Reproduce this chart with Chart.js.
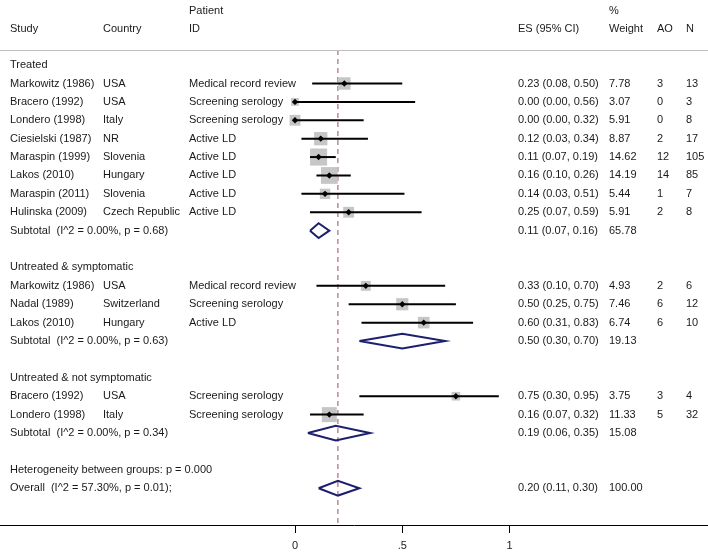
<!DOCTYPE html>
<html>
<head>
<meta charset="utf-8">
<script src="https://cdn.jsdelivr.net/npm/chart.js@4"></script>
<style>
  html, body { margin: 0; padding: 0; background: #fff; }
  #wrap { width: 708px; height: 555px; }
</style>
</head>
<body>
<div id="wrap"><canvas id="forest" width="708" height="555"></canvas></div>
<script>
/* forest plot — studies, subtotals and overall */

const GROUPS      = ['Treated', 'Untreated & symptomatic', 'Untreated & not symptomatic'];
const STUDY       = ['Markowitz (1986)', 'Bracero (1992)', 'Londero (1998)', 'Ciesielski (1987)', 'Maraspin (1999)', 'Lakos (2010)', 'Maraspin (2011)', 'Hulinska (2009)',
                     'Markowitz (1986)', 'Nadal (1989)', 'Lakos (2010)',
                     'Bracero (1992)', 'Londero (1998)'];
const COUNTRY     = ['USA', 'USA', 'Italy', 'NR', 'Slovenia', 'Hungary', 'Slovenia', 'Czech Republic',
                     'USA', 'Switzerland', 'Hungary',
                     'USA', 'Italy'];
const PATIENT_ID  = ['Medical record review', 'Screening serology', 'Screening serology', 'Active LD', 'Active LD', 'Active LD', 'Active LD', 'Active LD',
                     'Medical record review', 'Screening serology', 'Active LD',
                     'Screening serology', 'Screening serology'];
const STUDY_GROUP = [0, 0, 0, 0, 0, 0, 0, 0, 1, 1, 1, 2, 2];
const ES          = [0.23, 0.00, 0.00, 0.12, 0.11, 0.16, 0.14, 0.25, 0.33, 0.50, 0.60, 0.75, 0.16];
const CI_LO       = [0.08, 0.00, 0.00, 0.03, 0.07, 0.10, 0.03, 0.07, 0.10, 0.25, 0.31, 0.30, 0.07];
const CI_HI       = [0.50, 0.56, 0.32, 0.34, 0.19, 0.26, 0.51, 0.59, 0.70, 0.75, 0.83, 0.95, 0.32];
const WEIGHT      = [7.78, 3.07, 5.91, 8.87, 14.62, 14.19, 5.44, 5.91, 4.93, 7.46, 6.74, 3.75, 11.33];
const AO          = [3, 0, 0, 2, 12, 14, 1, 2, 2, 6, 6, 3, 5];
const N           = [13, 3, 8, 17, 105, 85, 7, 8, 6, 12, 10, 4, 32];

const SUB_HET     = ['I^2 = 0.00%, p = 0.68', 'I^2 = 0.00%, p = 0.63', 'I^2 = 0.00%, p = 0.34'];
const SUB_ES      = [0.11, 0.50, 0.19];
const SUB_LO      = [0.07, 0.30, 0.06];
const SUB_HI      = [0.16, 0.70, 0.35];
const SUB_WEIGHT  = [65.78, 19.13, 15.08];

const BETWEEN_P   = '0.000';
const OVERALL_HET = 'I^2 = 57.30%, p = 0.01';
const OVERALL     = [0.20, 0.11, 0.30];   // es, lo, hi
const OVERALL_W   = 100.00;

const TICK_VALUES = [0, 0.5, 1];
const TICK_LABELS = ['0', '.5', '1'];

const FAMILY = '"Liberation Sans", Arial, sans-serif';
const FONT = '11px ' + FAMILY;
const TEXT = '#1a1a1a';
const NAVY = '#1c1f6e';

/* ── row layout: header, studies, subtotal, blank line per group ── */
const rows = [];          // {kind, row, i}
let r = 1;
GROUPS.forEach((g, gi) => {
  rows.push({ kind: 'group', row: r++, i: gi });
  STUDY.forEach((s, i) => { if (STUDY_GROUP[i] === gi) rows.push({ kind: 'study', row: r++, i }); });
  rows.push({ kind: 'sub', row: r++, i: gi });
  r++;
});
rows.push({ kind: 'between', row: r++ });
rows.push({ kind: 'overall', row: r++ });

const studyRow = STUDY.map((s, i) => rows.find(o => o.kind === 'study' && o.i === i).row);
const subRow = GROUPS.map((g, gi) => rows.find(o => o.kind === 'sub' && o.i === gi).row);
const overallRow = rows.find(o => o.kind === 'overall').row;

const Y_MIN = 0.18, Y_MAX = 26.0, DIAMOND_H = 0.4;

/* ── datasets ── */
const datasets = [];

datasets.push({
  type: 'line', order: 9,
  data: [{ x: OVERALL[0], y: Y_MIN }, { x: OVERALL[0], y: Y_MAX }],
  borderColor: '#a04a5c', borderWidth: 1, borderDash: [5, 4], pointRadius: 0
});

datasets.push({
  type: 'scatter', order: 8,
  data: ES.map((v, i) => ({ x: v, y: studyRow[i] })),
  pointStyle: 'rect',
  pointRadius: ctx => 3.15 * Math.sqrt(WEIGHT[ctx.dataIndex]),
  pointHoverRadius: ctx => 3.15 * Math.sqrt(WEIGHT[ctx.dataIndex]),
  backgroundColor: '#c6c6c6', borderWidth: 0
});

ES.forEach((v, i) => {
  datasets.push({
    type: 'line', order: 7,
    data: [{ x: CI_LO[i], y: studyRow[i] }, { x: CI_HI[i], y: studyRow[i] }],
    borderColor: '#000', borderWidth: 2, pointRadius: 0
  });
});

datasets.push({
  type: 'scatter', order: 1,
  data: ES.map((v, i) => ({ x: v, y: studyRow[i] })),
  pointStyle: 'rectRot', pointRadius: 3.2,
  backgroundColor: '#000', borderColor: '#000', borderWidth: 0
});

function diamond(es, lo, hi, row) {
  return [
    { x: lo, y: row }, { x: es, y: row - DIAMOND_H }, { x: hi, y: row },
    { x: es, y: row + DIAMOND_H }, { x: lo, y: row }
  ];
}
SUB_ES.forEach((v, gi) => {
  datasets.push({
    type: 'line', order: 2,
    data: diamond(v, SUB_LO[gi], SUB_HI[gi], subRow[gi]),
    borderColor: NAVY, borderWidth: 2, pointRadius: 0, fill: false, tension: 0
  });
});
datasets.push({
  type: 'line', order: 2,
  data: diamond(OVERALL[0], OVERALL[1], OVERALL[2], overallRow),
  borderColor: NAVY, borderWidth: 2, pointRadius: 0, fill: false, tension: 0
});

/* ── table text plugin ── */
const COL = { study: 10, country: 103, pid: 189, es: 518, weight: 609, ao: 657, n: 686 };

const tablePlugin = {
  id: 'table',
  afterDraw(chart) {
    const { ctx, chartArea } = chart;
    const ys = chart.scales.y;
    ctx.save();
    ctx.font = FONT;
    ctx.fillStyle = TEXT;
    ctx.textBaseline = 'middle';
    ctx.textAlign = 'left';

    const h1 = chartArea.top - 39, h2 = chartArea.top - 21;
    ctx.fillText('Study', COL.study, h2);
    ctx.fillText('Country', COL.country, h2);
    ctx.fillText('Patient', COL.pid, h1);
    ctx.fillText('ID', COL.pid, h2);
    ctx.fillText('ES (95% CI)', COL.es, h2);
    ctx.fillText('%', COL.weight, h1);
    ctx.fillText('Weight', COL.weight, h2);
    ctx.fillText('AO', COL.ao, h2);
    ctx.fillText('N', COL.n, h2);

    const ci = (e, l, h) => e.toFixed(2) + ' (' + l.toFixed(2) + ', ' + h.toFixed(2) + ')';
    rows.forEach(o => {
      const y = ys.getPixelForValue(o.row);
      if (o.kind === 'group') {
        ctx.fillText(GROUPS[o.i], COL.study, y);
      } else if (o.kind === 'study') {
        const i = o.i;
        ctx.fillText(STUDY[i], COL.study, y);
        ctx.fillText(COUNTRY[i], COL.country, y);
        ctx.fillText(PATIENT_ID[i], COL.pid, y);
        ctx.fillText(ci(ES[i], CI_LO[i], CI_HI[i]), COL.es, y);
        ctx.fillText(WEIGHT[i].toFixed(2), COL.weight, y);
        ctx.fillText(String(AO[i]), COL.ao, y);
        ctx.fillText(String(N[i]), COL.n, y);
      } else if (o.kind === 'sub') {
        ctx.fillText('Subtotal  (' + SUB_HET[o.i] + ')', COL.study, y);
        ctx.fillText(ci(SUB_ES[o.i], SUB_LO[o.i], SUB_HI[o.i]), COL.es, y);
        ctx.fillText(SUB_WEIGHT[o.i].toFixed(2), COL.weight, y);
      } else if (o.kind === 'between') {
        ctx.fillText('Heterogeneity between groups: p = ' + BETWEEN_P, COL.study, y);
      } else if (o.kind === 'overall') {
        ctx.fillText('Overall  (' + OVERALL_HET + ');', COL.study, y);
        ctx.fillText(ci(OVERALL[0], OVERALL[1], OVERALL[2]), COL.es, y);
        ctx.fillText(OVERALL_W.toFixed(2), COL.weight, y);
      }
    });

    // header rule
    ctx.strokeStyle = '#bdbdbd';
    ctx.lineWidth = 1;
    ctx.beginPath();
    ctx.moveTo(0, chartArea.top + 0.5);
    ctx.lineTo(chart.width, chartArea.top + 0.5);
    ctx.stroke();
    ctx.restore();
  }
};

new Chart(document.getElementById('forest'), {
  type: 'scatter',
  data: { datasets },
  options: {
    responsive: false,
    animation: false,
    layout: { autoPadding: false, padding: { top: 50, left: 0, right: 0, bottom: 0 } },
    plugins: { legend: { display: false }, tooltip: { enabled: false } },
    scales: {
      x: {
        type: 'linear',
        min: -1.375, max: 1.925,
        afterBuildTicks: s => { s.ticks = TICK_VALUES.map(v => ({ value: v })); },
        afterFit: s => { s.height = 30; s.paddingLeft = 0; s.paddingRight = 0; },
        border: { display: true, color: '#000', width: 1 },
        grid: { display: true, drawOnChartArea: false, drawTicks: true, tickLength: 8, color: '#000' },
        ticks: {
          color: TEXT, padding: 6,
          font: { family: FAMILY, size: 11 },
          callback: v => TICK_LABELS[TICK_VALUES.indexOf(v)]
        }
      },
      y: {
        type: 'linear', display: false, reverse: true,
        min: Y_MIN, max: Y_MAX
      }
    }
  },
  plugins: [tablePlugin]
});
</script>
</body>
</html>
